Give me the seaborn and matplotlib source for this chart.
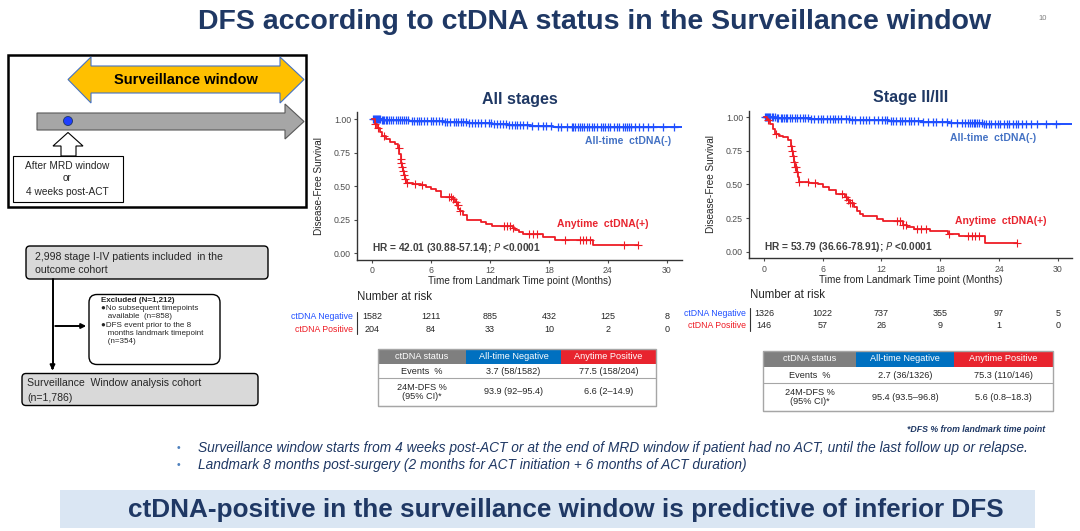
import numpy as np
import pandas as pd
import seaborn as sns
import matplotlib.pyplot as plt
import matplotlib.transforms as mtransforms
from matplotlib.patches import Polygon, Rectangle, FancyBboxPatch, Circle

sns.set_style("ticks")
plt.rcParams['font.family'] = ['Liberation Sans', 'DejaVu Sans']

NAVY = '#1F3864'
BLUE = '#1F4FFF'
RED = '#EE1C25'
LBLUE = '#4472C4'

#%%
# KM curves (step points + censor ticks)

# All stages, all-time ctDNA negative
all_neg_t = [0, 0.5, 1.0, 1.6, 2.2, 3.0, 3.8, 4.6, 5.5, 6.4, 7.3, 8.2, 9.0, 9.8, 10.6,
             11.4, 12.2, 13.0, 13.8, 14.6, 15.4, 16.2, 17.2, 18.4, 19.6, 21.0, 22.6, 24.2, 31.5]
all_neg_s = [1.0, 0.998, 0.996, 0.994, 0.992, 0.990, 0.988, 0.986, 0.984, 0.982, 0.980, 0.978,
             0.976, 0.973, 0.970, 0.967, 0.964, 0.961, 0.958, 0.955, 0.952, 0.949, 0.946, 0.944,
             0.942, 0.940, 0.939, 0.937, 0.937]
all_neg_cens = [0.1, 0.2, 0.3, 0.4, 0.5, 0.6, 0.7, 0.8, 1.0, 1.1, 1.2, 1.4, 1.5, 1.7, 1.9,
                2.1, 2.4, 2.6, 2.8, 3.1, 3.3, 3.5, 3.7, 4.1, 4.3, 4.6, 4.8, 5.0, 5.3, 5.6,
                6.0, 6.2, 6.5, 6.8, 7.1, 7.4, 7.6, 7.9, 8.3, 8.5, 8.8, 9.1, 9.3, 9.6, 9.9,
                10.2, 10.5, 10.8, 11.1, 11.5, 11.9, 12.1, 12.4, 12.7, 13.0, 13.3, 13.6, 13.9,
                14.2, 14.5, 14.8, 15.1, 15.4, 15.8, 16.3, 16.9, 17.4, 17.7, 18.2, 18.9, 19.2,
                19.8, 20.3, 20.5, 20.7, 21.0, 21.2, 21.4, 21.6, 21.9, 22.1, 22.4, 22.6, 22.9,
                23.3, 23.5, 23.7, 24.0, 24.2, 24.6, 24.9, 25.1, 25.5, 25.7, 25.9, 26.2, 26.4,
                26.8, 27.2, 27.6, 28.1, 28.6, 29.6, 30.7]

# All stages, anytime ctDNA positive
all_pos_t = [0, 0.3, 0.5, 0.8, 1.0, 1.4, 1.8, 2.3, 2.6, 2.75, 2.9, 3.0, 3.1, 3.2, 3.3, 3.4,
             3.5, 4.2, 5.0, 5.5, 6.0, 6.5, 7.0, 8.2, 8.4, 8.6, 8.8, 9.0, 9.3, 9.7, 11.1, 11.6,
             12.2, 14.3, 14.6, 15.0, 15.4, 17.4, 18.6, 22.5, 27.1]
all_pos_s = [1.0, 0.96, 0.93, 0.90, 0.87, 0.85, 0.83, 0.81, 0.78, 0.74, 0.70, 0.67, 0.64,
             0.61, 0.58, 0.55, 0.52, 0.515, 0.505, 0.495, 0.48, 0.46, 0.42, 0.40, 0.38, 0.36,
             0.33, 0.31, 0.28, 0.25, 0.235, 0.22, 0.20, 0.185, 0.17, 0.16, 0.145, 0.12, 0.10,
             0.06, 0.06]
all_pos_cens = [0.3, 0.6, 1.2, 2.7, 2.9, 3.0, 3.1, 3.2, 3.3, 3.4, 3.6, 4.4, 5.1, 7.8, 8.0,
                8.2, 8.5, 8.7, 9.0, 13.4, 13.7, 14.0, 14.3, 16.0, 16.4, 16.8, 19.6, 21.2,
                21.5, 21.8, 22.2, 25.6, 27.1]

# Stage II/III, all-time ctDNA negative
st_neg_t = [0, 0.6, 1.2, 2.0, 2.8, 3.8, 4.8, 5.8, 6.8, 7.8, 8.8, 9.8, 10.8, 11.8, 12.8, 13.8,
            15.0, 16.2, 17.6, 19.0, 20.6, 22.4, 31.5]
st_neg_s = [1.0, 0.999, 0.998, 0.997, 0.995, 0.993, 0.991, 0.989, 0.987, 0.985, 0.983, 0.981,
            0.979, 0.977, 0.975, 0.973, 0.970, 0.967, 0.963, 0.960, 0.957, 0.954, 0.954]
st_neg_cens = [0.1, 0.2, 0.3, 0.4, 0.5, 0.6, 0.8, 0.9, 1.1, 1.3, 1.4, 1.7, 1.8, 2.0, 2.2,
               2.4, 2.7, 2.9, 3.2, 3.4, 3.7, 4.0, 4.2, 4.5, 4.8, 5.1, 5.5, 5.8, 6.0, 6.4,
               6.7, 7.0, 7.3, 7.6, 7.9, 8.4, 8.7, 9.0, 9.3, 9.8, 10.1, 10.4, 10.7, 11.2,
               11.6, 12.1, 12.4, 12.6, 13.0, 13.2, 13.5, 13.9, 14.1, 14.4, 14.8, 15.0, 15.3,
               15.7, 16.2, 16.8, 17.3, 17.6, 18.2, 18.7, 19.1, 19.7, 20.2, 20.5, 20.8, 21.0,
               21.2, 21.4, 21.6, 21.8, 22.0, 22.3, 22.5, 22.7, 23.0, 23.2, 23.6, 23.9, 24.1,
               24.5, 24.8, 25.0, 25.4, 25.7, 25.9, 26.3, 26.8, 27.3, 27.9, 28.8, 29.8]

# Stage II/III, anytime ctDNA positive
st_pos_t = [0, 0.3, 0.6, 0.9, 1.1, 1.5, 1.9, 2.5, 2.8, 2.9, 3.0, 3.1, 3.2, 3.35, 3.5, 3.6,
            4.6, 5.5, 6.0, 6.6, 7.4, 8.3, 8.5, 8.8, 9.2, 9.5, 9.8, 10.1, 11.5, 12.2, 14.2,
            14.6, 15.3, 17.0, 18.8, 19.9, 22.6, 25.8]
st_pos_s = [1.0, 0.98, 0.95, 0.91, 0.875, 0.86, 0.85, 0.83, 0.79, 0.75, 0.71, 0.67, 0.63,
            0.59, 0.555, 0.52, 0.51, 0.50, 0.48, 0.46, 0.43, 0.41, 0.385, 0.36, 0.33, 0.30,
            0.28, 0.265, 0.24, 0.225, 0.20, 0.185, 0.17, 0.155, 0.135, 0.115, 0.063, 0.063]
st_pos_cens = [0.4, 1.2, 2.8, 2.9, 3.0, 3.1, 3.2, 3.3, 3.4, 3.6, 4.5, 5.2, 8.0, 8.4, 8.6,
               8.8, 9.0, 13.6, 13.9, 14.2, 14.5, 15.6, 16.0, 16.5, 18.9, 20.8, 21.2, 21.6,
               22.0, 25.8]

#%%
# number at risk and summary tables
risk_times = [0, 6, 12, 18, 24, 30]
all_risk_neg = [1582, 1211, 885, 432, 125, 8]
all_risk_pos = [204, 84, 33, 10, 2, 0]
st_risk_neg = [1326, 1022, 737, 355, 97, 5]
st_risk_pos = [146, 57, 26, 9, 1, 0]

table_head = ['ctDNA status', 'All-time Negative', 'Anytime Positive']
all_events = ['Events  %', '3.7 (58/1582)', '77.5 (158/204)']
all_dfs = ['24M-DFS %\n(95% CI)*', '93.9 (92\u201395.4)', '6.6 (2\u201314.9)']
st_events = ['Events  %', '2.7 (36/1326)', '75.3 (110/146)']
st_dfs = ['24M-DFS %\n(95% CI)*', '95.4 (93.5\u201396.8)', '5.6 (0.8\u201318.3)']


def surv_at(times, surv, c):
    # survival value of a step curve at censor time c
    idx = np.searchsorted(times, c, side='right') - 1
    return np.asarray(surv)[idx]


#%%
fig = plt.figure(figsize=(10.8, 5.31), dpi=100)

# background axes in pixel coordinates for the slide furniture
bg = fig.add_axes([0, 0, 1, 1])
bg.set_xlim(0, 1080)
bg.set_ylim(531, 0)
bg.axis('off')

bg.text(595, 22, 'DFS according to ctDNA status in the Surveillance window', ha='center',
        va='center', fontsize=20.5, fontweight='bold', color=NAVY)
bg.text(1043, 18, '10', ha='center', va='center', fontsize=5.5, color='#7F7F7F')

# --- surveillance window diagram
bg.add_patch(Rectangle((7.5, 54.5), 298, 152, fill=False, ec='black', lw=1.8))
bg.add_patch(Polygon([(68, 79.5), (91, 57), (91, 66), (280, 66), (280, 57), (304, 79.5),
                      (280, 103), (280, 93), (91, 93), (91, 103)],
                     closed=True, fc='#FFC000', ec=LBLUE, lw=0.8))
bg.text(186, 80, 'Surveillance window', ha='center', va='center', fontsize=10.5,
        fontweight='bold', color='black')
bg.add_patch(Polygon([(37, 113), (285, 113), (285, 104), (304, 121.5), (285, 139),
                      (285, 130), (37, 130)], closed=True, fc='#A6A6A6', ec='#595959', lw=0.8))
bg.add_patch(Circle((68, 121), 4.5, fc='#1F3FFF', ec='#1F3864', lw=0.6))
bg.add_patch(Polygon([(68, 132.5), (83, 146), (76, 146), (76, 156), (61, 156), (61, 146),
                      (53, 146)], closed=True, fc='white', ec='black', lw=0.8))
bg.add_patch(Rectangle((13, 156), 109.5, 46, fc='white', ec='black', lw=0.8))
bg.text(67.5, 166, 'After MRD window', ha='center', va='center', fontsize=7.3)
bg.text(67.5, 178, 'or', ha='center', va='center', fontsize=7.3)
bg.text(67.5, 192, '4 weeks post-ACT', ha='center', va='center', fontsize=7.3)

# --- cohort flowchart
bg.add_patch(FancyBboxPatch((26, 246), 242, 33, boxstyle='round,pad=0,rounding_size=4',
                            fc='#D9D9D9', ec='black', lw=1.0))
bg.text(35, 256.5, '2,998 stage I-IV patients included  in the', va='center', fontsize=7.6,
        color='#262626')
bg.text(35, 270, 'outcome cohort', va='center', fontsize=7.6, color='#262626')
bg.plot([52.5, 52.5], [279, 366], color='black', lw=1.4)
bg.annotate('', xy=(52.5, 373), xytext=(52.5, 364),
            arrowprops=dict(arrowstyle='-|>', color='black', lw=1.4, mutation_scale=7))
bg.annotate('', xy=(89, 326), xytext=(52.5, 326),
            arrowprops=dict(arrowstyle='-|>', color='black', lw=1.4, mutation_scale=7))
bg.add_patch(FancyBboxPatch((89, 294.5), 131, 70, boxstyle='round,pad=0,rounding_size=8',
                            fc='white', ec='black', lw=1.0))
bg.text(101, 301, 'Excluded (N=1,212)', va='center', fontsize=5.8, fontweight='bold')
excl_lines = ['\u25cfNo subsequent timepoints', '   available  (n=858)',
              '\u25cfDFS event prior to the 8', '   months landmark timepoint', '   (n=354)']
for i, line in enumerate(excl_lines):
    bg.text(101, 308.5 + i * 8.3, line, va='center', fontsize=5.8, color='#262626')
bg.add_patch(FancyBboxPatch((22, 373.5), 236, 32, boxstyle='round,pad=0,rounding_size=4',
                            fc='#D9D9D9', ec='black', lw=1.0))
bg.text(27, 383.5, 'Surveillance  Window analysis cohort', va='center', fontsize=7.6,
        color='#262626')
bg.text(27, 398, '(n=1,786)', va='center', fontsize=7.6, color='#262626')

#%%
# KM panels


def km_panel(rect, title, neg_t, neg_s, neg_c, pos_t, pos_s, pos_c, hr, neg_lab, pos_lab):
    ax = fig.add_axes(rect)
    ax.set_facecolor('none')
    sns.lineplot(x=neg_t, y=neg_s, drawstyle='steps-post', estimator=None, sort=False,
                 color=BLUE, lw=1.4, ax=ax)
    sns.lineplot(x=pos_t, y=pos_s, drawstyle='steps-post', estimator=None, sort=False,
                 color=RED, lw=1.3, ax=ax)
    sns.scatterplot(x=neg_c, y=surv_at(neg_t, neg_s, neg_c), marker='+', s=38,
                    color=BLUE, linewidth=0.9, ax=ax)
    sns.scatterplot(x=pos_c, y=surv_at(pos_t, pos_s, pos_c), marker='+', s=32,
                    color=RED, linewidth=0.8, ax=ax)
    ax.set_xlim(-1.5, 31.5)
    ax.set_ylim(-0.05, 1.05)
    ax.set_xticks(risk_times)
    ax.set_yticks([0, 0.25, 0.5, 0.75, 1.0])
    ax.set_yticklabels(['0.00', '0.25', '0.50', '0.75', '1.00'])
    ax.tick_params(labelsize=6.3, colors='#4D4D4D', length=2.5, width=0.8, pad=2)
    sns.despine(ax=ax)
    for sp in ['left', 'bottom']:
        ax.spines[sp].set_color('#333333')
        ax.spines[sp].set_linewidth(1.0)
    ax.set_xlabel('Time from Landmark Time point (Months)', fontsize=7.2, color='#262626',
                  labelpad=1)
    ax.set_ylabel('Disease-Free Survival', fontsize=7.2, color='#262626', labelpad=7)
    ax.set_title(title, fontsize=11.5, fontweight='bold', color=NAVY, pad=6)
    ax.text(0, 0.035, hr, fontsize=7.3, fontweight='bold', color='#404040', va='center')
    ax.text(neg_lab[0], neg_lab[1], 'All-time  ctDNA(-)', fontsize=7.5, fontweight='bold',
            color=LBLUE, ha='center', va='center')
    ax.text(pos_lab[0], pos_lab[1], 'Anytime  ctDNA(+)', fontsize=7.5, fontweight='bold',
            color='#E8242E', ha='center', va='center')
    return ax


ax1 = km_panel([0.3308, 0.5109, 0.3003, 0.2776], 'All stages',
               all_neg_t, all_neg_s, all_neg_cens, all_pos_t, all_pos_s, all_pos_cens,
               'HR = 42.01 (30.88-57.14); $\\mathit{P}$ <0.0001', (26.1, 0.835), (23.45, 0.22))
ax2 = km_panel([0.6938, 0.5134, 0.2992, 0.2783], 'Stage II/III',
               st_neg_t, st_neg_s, st_neg_cens, st_pos_t, st_pos_s, st_pos_cens,
               'HR = 53.79 (36.66-78.91); $\\mathit{P}$ <0.0001', (23.4, 0.845), (24.2, 0.23))

#%%
# number at risk under each panel


def risk_block(ax, x0, ytitle, yrows, neg, pos):
    trans = mtransforms.blended_transform_factory(ax.transData, bg.transData)
    bg.text(x0, ytitle, 'Number at risk', fontsize=8.3, va='center', color='#262626')
    bg.text(x0 - 4, yrows[0], 'ctDNA Negative', fontsize=6.3, ha='right', va='center',
            color='#1F4FFF')
    bg.text(x0 - 4, yrows[1], 'ctDNA Positive', fontsize=6.3, ha='right', va='center',
            color='#EE1C25')
    bg.plot([x0, x0], [yrows[0] - 5, yrows[1] + 5], color='#333333', lw=0.8)
    for x, n in zip(risk_times, neg):
        ax.text(x, yrows[0], str(n), transform=trans, ha='center', va='center',
                fontsize=6.5, color='#262626')
    for x, n in zip(risk_times, pos):
        ax.text(x, yrows[1], str(n), transform=trans, ha='center', va='center',
                fontsize=6.5, color='#262626')


risk_block(ax1, 357, 297.5, [316.5, 329], all_risk_neg, all_risk_pos)
risk_block(ax2, 750, 294.5, [313.3, 325.7], st_risk_neg, st_risk_pos)

#%%
# summary tables


def summary_table(x_edges, y_edges, rows):
    head_cols = ['#7F7F7F', '#0070C0', '#E8242E']
    for j in range(3):
        bg.add_patch(Rectangle((x_edges[j], y_edges[0]), x_edges[j + 1] - x_edges[j],
                               y_edges[1] - y_edges[0], fc=head_cols[j], ec='none'))
        bg.text((x_edges[j] + x_edges[j + 1]) / 2, (y_edges[0] + y_edges[1]) / 2,
                table_head[j], ha='center', va='center', fontsize=6.6, color='white')
    for i, row in enumerate(rows):
        ya, yb = y_edges[i + 1], y_edges[i + 2]
        bg.plot([x_edges[0], x_edges[-1]], [yb, yb], color='#A6A6A6', lw=0.8)
        for j in range(3):
            bg.text((x_edges[j] + x_edges[j + 1]) / 2, (ya + yb) / 2, row[j], ha='center',
                    va='center', fontsize=6.6, color='#262626', linespacing=1.1)
    bg.add_patch(Rectangle((x_edges[0], y_edges[0]), x_edges[-1] - x_edges[0],
                           y_edges[-1] - y_edges[0], fill=False, ec='#A6A6A6', lw=1.0))


summary_table([377.5, 466, 561, 656], [348.5, 364.3, 378.3, 405.7], [all_events, all_dfs])
summary_table([763, 856, 954, 1052.5], [351, 366.7, 383.3, 411], [st_events, st_dfs])
bg.text(1045, 429, '*DFS % from landmark time point', ha='right', va='center', fontsize=6.3,
        style='italic', fontweight='bold', color=NAVY)

#%%
# footnote bullets and take-home banner
bullets = ['Surveillance window starts from 4 weeks post-ACT or at the end of MRD window if patient '
           'had no ACT, until the last follow up or relapse.',
           'Landmark 8 months post-surgery (2 months for ACT initiation + 6 months of ACT duration)']
for i, b in enumerate(bullets):
    bg.text(178, 448 + i * 17, '\u2022', fontsize=7.5, color='#4F81BD', va='center', ha='center')
    bg.text(198, 448 + i * 17, b, fontsize=9.9, style='italic', color=NAVY, va='center')

bg.add_patch(Rectangle((60, 490), 975, 38, fc='#DAE6F3', ec='none'))
bg.text(566, 510, 'ctDNA-positive in the surveillance window is predictive of inferior DFS',
        ha='center', va='center', fontsize=18.8, fontweight='bold', color=NAVY)

fig.savefig('out.png', dpi=100)
